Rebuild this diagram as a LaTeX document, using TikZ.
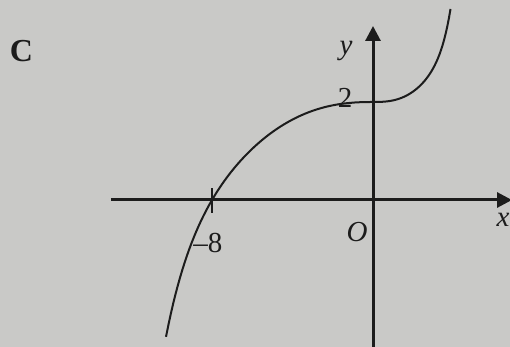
\documentclass[tikz,border=0pt]{standalone}
\usepackage{fontspec}
\setmainfont{Liberation Serif}
\usepackage{xcolor}
\usetikzlibrary{arrows.meta}
\definecolor{paper}{RGB}{201,201,199}
\definecolor{ink}{RGB}{28,28,28}

\begin{document}
\begin{tikzpicture}[
  x=1pt, y=1pt,
  font=\fontsize{29}{30}\selectfont,
  axis/.style={-{Triangle[length=15pt,width=15pt]}, line width=3pt, draw=ink},
  curve/.style={line width=2pt, draw=ink},
  tickmark/.style={line width=2.6pt, draw=ink},
  lbl/.style={text=ink, inner sep=0pt},
]
\clip (-373,-147) rectangle (137,200);
\fill[paper] (-373,-147) rectangle (137,200);
% axes
\coordinate (O) at (0,0);
\coordinate (xleft) at (-262,0);
\coordinate (xright) at (139,0);
\coordinate (ybottom) at (0,-150);
\coordinate (ytop) at (0,174);
\coordinate (root) at (-161,0);
\draw[axis] (xleft) -- (xright);
\draw[axis] (ybottom) -- (ytop);
\draw[tickmark] ([yshift=-13pt]root) -- ([yshift=12pt]root);
% graph
\draw[curve] plot[domain=-207:-0.2, samples=90]
    (\x, {98 - 92.7*pow(abs(\x)/161,2.4) - 5.3*pow(abs(\x)/161,10)})
  -- plot[domain=0.2:77.5, samples=50]
    (\x, {98 + 60.8*pow(\x/77,2.7) + 29.2*pow(\x/77,10)});
% labels
\node[lbl, font=\fontsize{32}{34}\selectfont\bfseries] (part) at (-351.5,149) {C};
\node[lbl] (ylab) at (-27,149) {\textit{y}};
\node[lbl] (xlab) at (130,-20) {\textit{x}};
\node[lbl] (olab) at (-16,-32) {\textit{O}};
\node[lbl] (two) at (-28,102) {2};
\node[lbl] (minus8) at (-165,-43) {\textendash 8};
\end{tikzpicture}
\end{document}
